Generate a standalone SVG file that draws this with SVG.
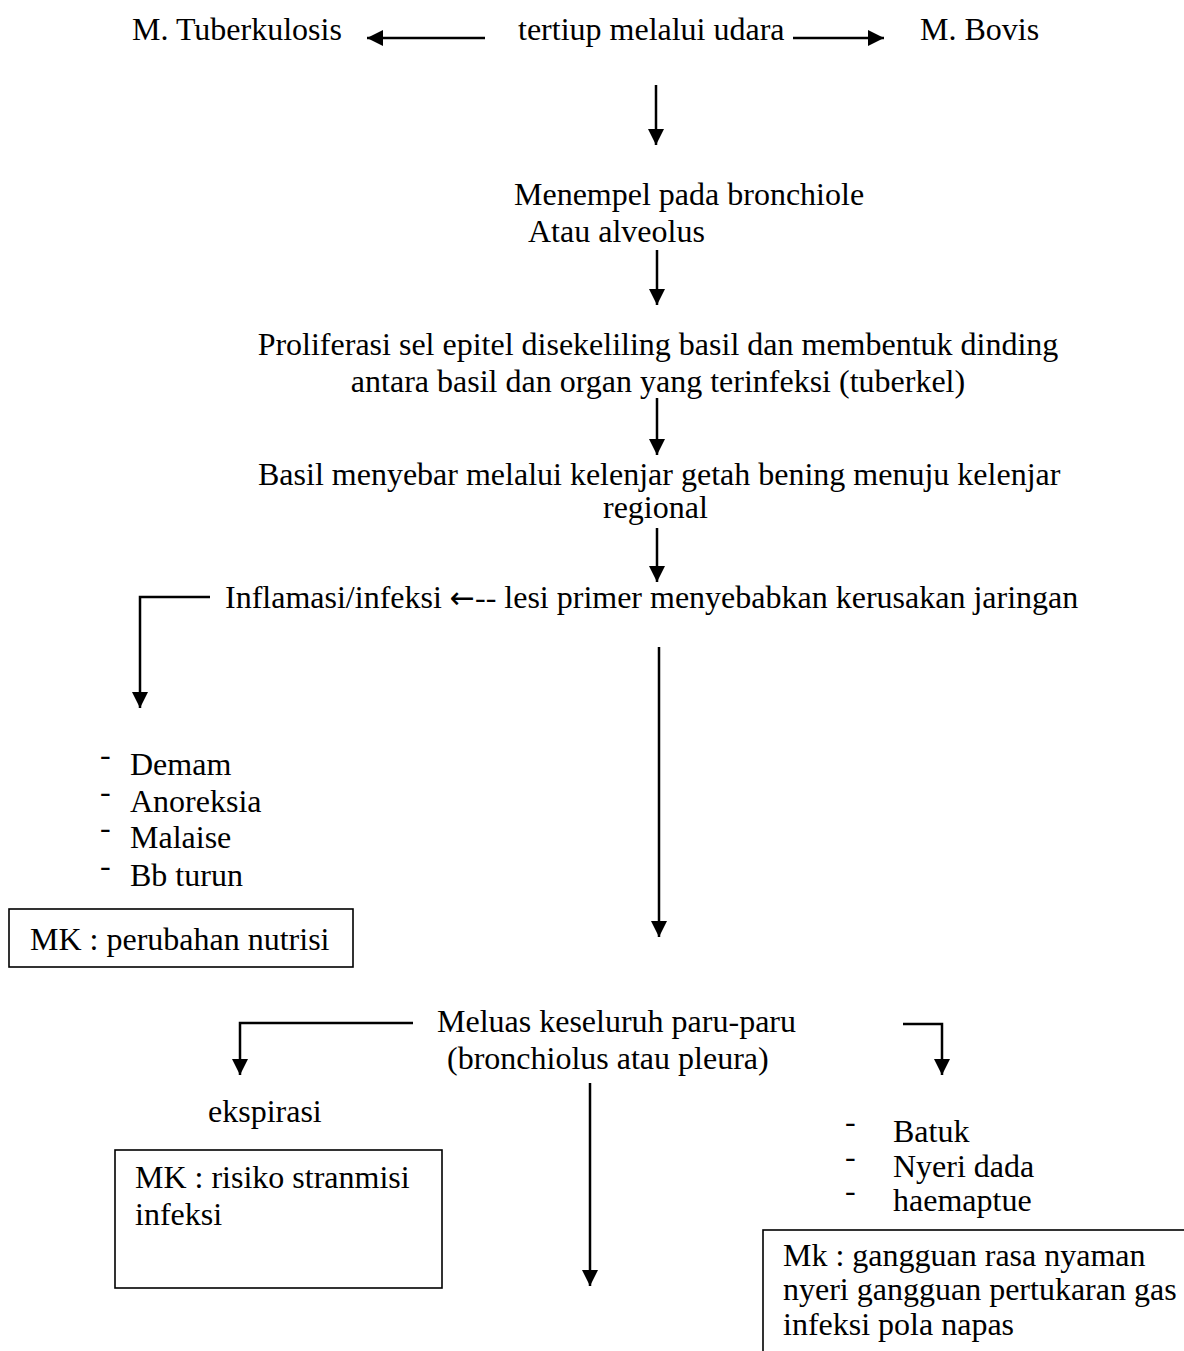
<svg xmlns="http://www.w3.org/2000/svg" width="1184" height="1351" viewBox="0 0 1184 1351">
<style>
text{font-family:"Liberation Serif","Times New Roman",serif;font-size:32px;fill:#000}
.c{fill:none;stroke:#000;stroke-width:2.5}
.b{fill:none;stroke:#000;stroke-width:1.6}
.ar{font-family:"DejaVu Sans",sans-serif;font-size:30px}
.m{text-anchor:middle}
</style>
<defs>
<marker id="ah" markerUnits="userSpaceOnUse" markerWidth="16" markerHeight="16" viewBox="0 0 16 16" refX="16" refY="8" orient="auto">
<path d="M0,0 L16,8 L0,16 z" fill="#000"/>
</marker>
</defs>
<rect width="1184" height="1351" fill="#fff"/>
<g id="connectors">
<path class="c" d="M485,38 H367" stroke-width="3.5" marker-end="url(#ah)"/>
<path class="c" d="M793,38 H884" stroke-width="3.5" marker-end="url(#ah)"/>
<path class="c" d="M656,85 V145" marker-end="url(#ah)"/>
<path class="c" d="M657,250 V305" marker-end="url(#ah)"/>
<path class="c" d="M657,398 V455" marker-end="url(#ah)"/>
<path class="c" d="M657,528 V582" marker-end="url(#ah)"/>
<path class="c" d="M210,597 H140 V708" marker-end="url(#ah)"/>
<path class="c" d="M659,647 V937" marker-end="url(#ah)"/>
<path class="c" d="M413,1023 H240 V1075" marker-end="url(#ah)"/>
<path class="c" d="M903,1024 H942 V1075" marker-end="url(#ah)"/>
<path class="c" d="M590,1083 V1286" marker-end="url(#ah)"/>
</g>
<g id="n-tuberkulosis"><text x="132" y="40">M. Tuberkulosis</text></g>
<g id="n-udara"><text x="518" y="40">tertiup melalui udara</text></g>
<g id="n-bovis"><text x="920" y="40">M. Bovis</text></g>
<g id="n-menempel"><text x="514" y="205">Menempel pada bronchiole</text><text x="528" y="242">Atau alveolus</text></g>
<g id="n-proliferasi"><text class="m" x="658" y="355">Proliferasi sel epitel disekeliling basil dan membentuk dinding</text><text class="m" x="658" y="392">antara basil dan organ yang terinfeksi (tuberkel)</text></g>
<g id="n-basil"><text x="258" y="485">Basil menyebar melalui kelenjar getah bening menuju kelenjar</text><text x="603" y="518">regional</text></g>
<g id="n-inflamasi"><text x="225" y="608">Inflamasi/infeksi <tspan class="ar">←</tspan>-- lesi primer menyebabkan kerusakan jaringan</text></g>
<g id="n-gejala">
<text x="100" y="765">-</text><text x="130" y="775">Demam</text>
<text x="100" y="802">-</text><text x="130" y="812">Anoreksia</text>
<text x="100" y="838">-</text><text x="130" y="848">Malaise</text>
<text x="100" y="876">-</text><text x="130" y="886">Bb turun</text>
</g>
<g id="n-mk-nutrisi"><rect class="b" x="9" y="909" width="344" height="58"/><text x="30" y="950">MK : perubahan nutrisi</text></g>
<g id="n-meluas"><text x="437" y="1032">Meluas keseluruh paru-paru</text><text x="447" y="1069">(bronchiolus atau pleura)</text></g>
<g id="n-ekspirasi"><text x="208" y="1122">ekspirasi</text></g>
<g id="n-mk-transmisi"><rect class="b" x="115" y="1150" width="327" height="138"/><text x="135" y="1188">MK : risiko stranmisi</text><text x="135" y="1225">infeksi</text></g>
<g id="n-batuk">
<text x="845" y="1132">-</text><text x="893" y="1142">Batuk</text>
<text x="845" y="1167">-</text><text x="893" y="1177">Nyeri dada</text>
<text x="845" y="1201">-</text><text x="893" y="1211">haemaptue</text>
</g>
<g id="n-mk-nyaman"><rect class="b" x="763" y="1230" width="440" height="140"/><text x="783" y="1266">Mk : gangguan rasa nyaman</text><text x="783" y="1300">nyeri gangguan pertukaran gas</text><text x="783" y="1335">infeksi pola napas</text></g>
</svg>
